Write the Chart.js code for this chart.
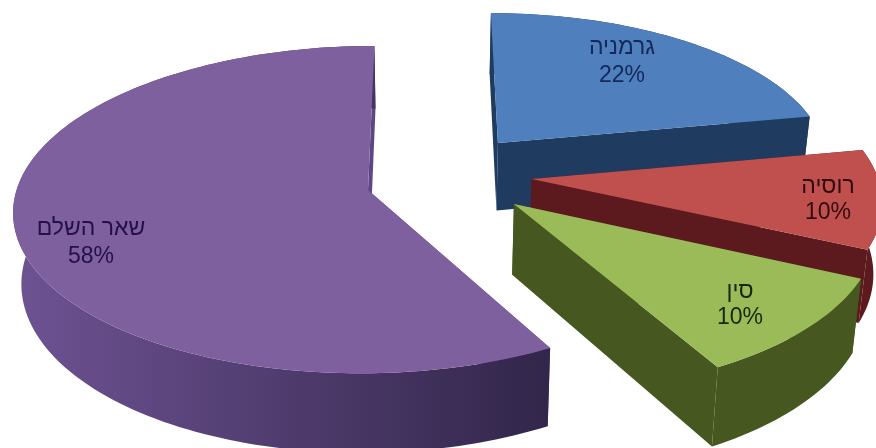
<!DOCTYPE html>
<html>
<head>
<meta charset="utf-8">
<style>
  html, body { margin: 0; padding: 0; background: #fff; }
  canvas { display: block; filter: blur(0.6px); }
</style>
<script src="https://cdn.jsdelivr.net/npm/chart.js@4"></script>
</head>
<body>
<canvas id="pie3d" width="876" height="448"></canvas>
<script>
const categories = ['גרמניה', 'רוסיה', 'סין', 'שאר השלם'];
const shareValues = [22, 10, 10, 58];

const topColors = ['#4f7fbc', '#c0504d', '#9bbb59', '#7f609f'];
const cutFaceColors = ['#1f3b60', '#5c1a1e', '#46571f', '#5e4785'];
const wallLeftColors = ['#1f3b60', '#5c1a1e', '#46571f', '#6d5292'];
const wallRightColors = ['#1f3b60', '#5c1a1e', '#46571f', '#32264a'];
const labelColors = ['#14285a', '#2e0c10', '#16280c', '#241047'];

// pie plane -> screen (camera looks down, near edge gets bigger)
const view = { x0: 428, y0: 190, sx: 355, sy: 163, persp: 0.121, depth: 70, shrink: 0.98 };
// explosion of each slice in plane units, and its radius
const sliceOffsets = [[0.204, -0.299], [0.294, -0.068], [0.2395, 0.085], [-0.169, 0]];
const sliceRadius = [0.95, 0.985, 1, 0.99];
const labelSpots = [[622, 48, 76], [828, 187, 213], [740, 292, 318], [91, 229, 257]];

function project(u, v, lower) {
  const w = 1 - view.persp * v;
  let x = view.x0 + view.sx * u / w;
  let y = view.y0 + view.sy * v / w;
  if (lower) {
    x = view.x0 + (x - view.x0) * view.shrink;
    y += view.depth / w;
  }
  return [x, y];
}

function fillPoly(ctx, pts, fill) {
  ctx.beginPath();
  pts.forEach((p, i) => (i ? ctx.lineTo(p[0], p[1]) : ctx.moveTo(p[0], p[1])));
  ctx.closePath();
  ctx.fillStyle = fill;
  ctx.fill();
}

const pie3dPlugin = {
  id: 'pie3d',
  beforeDatasetDraw(chart) {
    const ctx = chart.ctx;
    chart.getDatasetMeta(0).data.forEach((arc, i) => {
      const { startAngle, endAngle } = arc.getProps(['startAngle', 'endAngle'], true);
      const [ou, ov] = sliceOffsets[i];
      const r = sliceRadius[i];
      const rim = [];
      const steps = Math.ceil((endAngle - startAngle) * 40);
      for (let s = 0; s <= steps; s++) {
        const a = startAngle + (endAngle - startAngle) * s / steps;
        rim.push([ou + r * Math.cos(a), ov + r * Math.sin(a)]);
      }
      const top = rim.map((p) => project(p[0], p[1], false));
      const bottom = rim.map((p) => project(p[0], p[1], true));
      const apexTop = project(ou, ov, false);
      const apexBottom = project(ou, ov, true);

      // cut faces first, then outer wall, then the top
      fillPoly(ctx, [apexTop, top[0], bottom[0], apexBottom], cutFaceColors[i]);
      fillPoly(ctx, [apexTop, top[steps], bottom[steps], apexBottom], cutFaceColors[i]);
      const grad = ctx.createLinearGradient(20, 0, 548, 0);
      grad.addColorStop(0, wallLeftColors[i]);
      grad.addColorStop(1, wallRightColors[i]);
      fillPoly(ctx, top.concat(bottom.slice().reverse()), grad);
      fillPoly(ctx, [apexTop].concat(top), topColors[i]);
    });

    ctx.save();
    ctx.font = '23px "Liberation Sans", Arial, sans-serif';
    ctx.textAlign = 'center';
    ctx.textBaseline = 'middle';
    const total = shareValues.reduce((a, b) => a + b, 0);
    categories.forEach((name, i) => {
      const [x, y1, y2] = labelSpots[i];
      ctx.fillStyle = labelColors[i];
      ctx.fillText(name, x, y1);
      ctx.fillText(Math.round(shareValues[i] / total * 100) + '%', x, y2);
    });
    ctx.restore();
    return false; // skip the flat pie
  }
};

new Chart(document.getElementById('pie3d'), {
  type: 'pie',
  data: {
    labels: categories,
    datasets: [{ data: shareValues, backgroundColor: topColors, borderWidth: 0 }]
  },
  options: {
    responsive: false,
    animation: false,
    plugins: { legend: { display: false }, tooltip: { enabled: false } }
  },
  plugins: [pie3dPlugin]
});
</script>
</body>
</html>
